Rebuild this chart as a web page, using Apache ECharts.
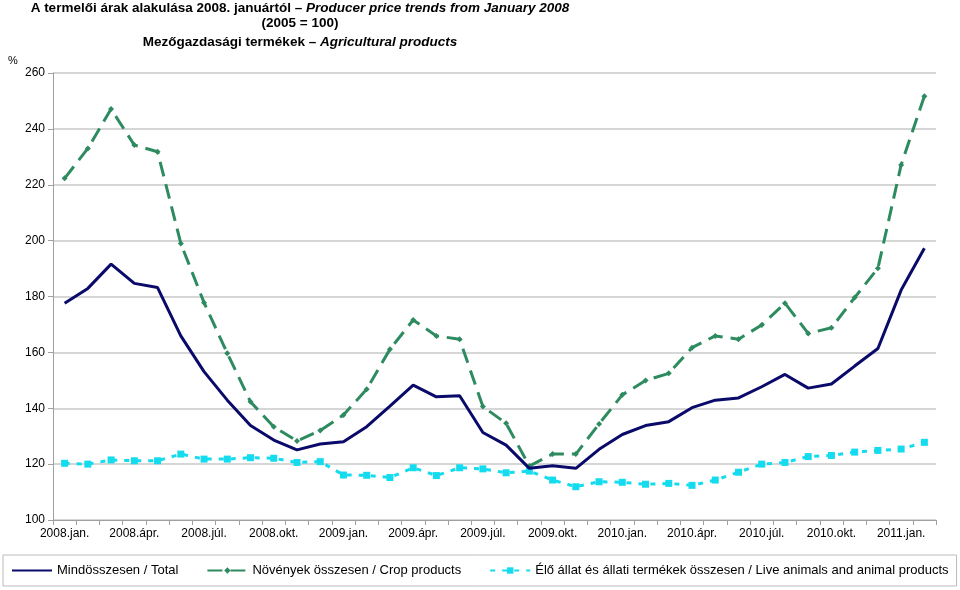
<!DOCTYPE html>
<html><head><meta charset="utf-8">
<script src="https://cdn.jsdelivr.net/npm/echarts@6/dist/echarts.min.js"></script>
<style>html,body{margin:0;padding:0;background:#fff}#c{width:960px;height:590px}</style>
</head><body><div id="c"></div>
<script>
const months = ['jan.','febr.','márc.','ápr.','máj.','jún.','júl.','aug.','szept.','okt.','nov.','dec.'];
const categories = [];
for (let y = 2008; y <= 2011; y++) for (let m = 0; m < 12; m++) { if (categories.length < 38) categories.push(y + '.' + months[m]); }
const total = [177.6,182.9,191.6,184.7,183.2,165.9,153.1,142.9,133.8,128.6,125.1,127.2,
  128.0,133.4,140.8,148.3,144.1,144.5,131.3,126.8,118.5,119.4,118.5,125.3,
  130.6,133.8,135.2,140.2,142.9,143.7,147.7,152.1,147.2,148.7,155.1,161.4,182.3,197.3];
const crop = [222.3,233.0,247.1,234.2,231.8,199.0,177.8,159.7,142.3,133.4,128.3,132.0,
  137.6,146.8,161.1,171.6,165.9,164.7,140.6,134.6,119.3,123.6,123.6,134.4,
  144.8,149.9,152.5,161.7,165.9,164.7,169.8,177.6,166.8,168.8,179.6,190.1,227.1,251.7];
const animal = [120.3,120.0,121.5,121.2,121.2,123.6,121.8,121.8,122.3,122.1,120.6,120.9,
  116.1,116.0,115.2,118.7,115.9,118.7,118.3,116.9,117.5,114.3,111.9,113.7,
  113.5,112.8,113.1,112.4,114.3,117.1,120.0,120.6,122.7,123.1,124.3,124.9,125.4,127.8];
const seriesNames = ['Mindösszesen / Total','Növények összesen / Crop products','Élő állat és állati termékek összesen / Live animals and animal products'];

const chart = echarts.init(document.getElementById('c'));
const F = 'Liberation Sans, Arial, sans-serif';
const rich = {
  b: {fontFamily: F, fontSize: 13.5, fontWeight: 'bold', color: '#000'},
  i: {fontFamily: F, fontSize: 13.5, fontWeight: 'bold', fontStyle: 'italic', color: '#000'}
};
chart.setOption({
  animation: false,
  textStyle: {fontFamily: F},
  title: [{
    left: 300, top: 1, textAlign: 'center', padding: 0,
    text: '{b|A termelői árak alakulása 2008. januártól – }{i|Producer price trends from January 2008}',
    textStyle: {rich}
  },{
    left: 300, top: 16, textAlign: 'center', padding: 0,
    text: '{b|(2005 = 100)}', textStyle: {rich}
  },{
    left: 300, top: 35, textAlign: 'center', padding: 0,
    text: '{b|Mezőgazdasági termékek – }{i|Agricultural products}', textStyle: {rich}
  },{
    left: 8, top: 55, padding: 0, text: '%', textStyle: {fontFamily: F, fontSize: 11, fontWeight: 'normal', color: '#000'}
  }],
  grid: {left: 53, right: 24, top: 73, bottom: 70},
  legend: {
    left: 3, bottom: 4, width: 950,
    padding: [9, 8, 9, 8],
    borderColor: '#bbb', borderWidth: 1,
    itemGap: 28, itemWidth: 40, itemHeight: 8,
    textStyle: {fontFamily: F, fontSize: 13, color: '#000'},
    data: [{name: seriesNames[0], itemStyle: {opacity: 0}}, seriesNames[1], seriesNames[2]]
  },
  xAxis: {
    type: 'category', data: categories, boundaryGap: true,
    axisLine: {lineStyle: {color: '#a0a0a0', width: 1}},
    axisTick: {show: true, interval: 0, length: 5, lineStyle: {color: '#a0a0a0'}},
    axisLabel: {interval: 2, color: '#000', fontSize: 12, fontFamily: F, margin: 8}
  },
  yAxis: {
    type: 'value', min: 100, max: 260, interval: 20,
    axisLine: {show: true, lineStyle: {color: '#a0a0a0'}},
    axisTick: {show: true, length: 5, lineStyle: {color: '#a0a0a0'}},
    axisLabel: {color: '#000', fontSize: 12, fontFamily: F, margin: 8},
    splitLine: {lineStyle: {color: '#c8c8c8', width: 1.5}}
  },
  series: [{
    name: seriesNames[0], type: 'line', data: total,
    lineStyle: {color: '#0a0a6a', width: 3}, itemStyle: {color: '#0a0a6a'},
    showSymbol: false, symbol: 'none', z: 3
  },{
    name: seriesNames[1], type: 'line', data: crop,
    lineStyle: {color: '#2e8b60', width: 3, type: [15, 8]}, itemStyle: {color: '#2e8b60'},
    symbol: 'diamond', symbolSize: 6, showSymbol: true, z: 2
  },{
    name: seriesNames[2], type: 'line', data: animal,
    lineStyle: {color: '#14dcee', width: 3, type: [5, 7]}, itemStyle: {color: '#14dcee'},
    symbol: 'rect', symbolSize: 7, showSymbol: true, z: 1
  }]
});
</script></body></html>
